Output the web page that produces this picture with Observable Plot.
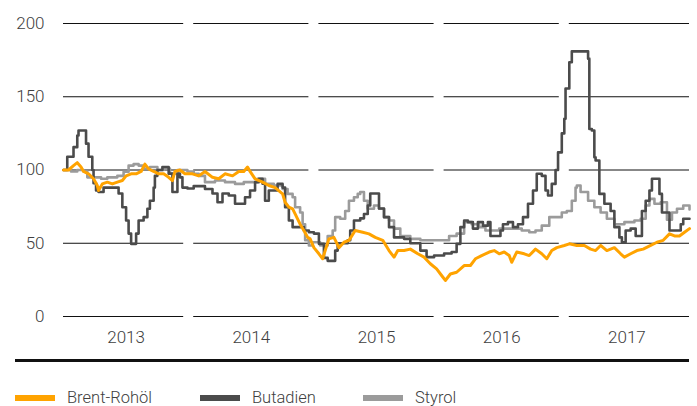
<!DOCTYPE html>
<html>
<head>
<meta charset="utf-8">
<script src="https://cdn.jsdelivr.net/npm/d3@7"></script>
<script src="https://cdn.jsdelivr.net/npm/@observablehq/plot@0.6"></script>
<style>
  html, body { margin: 0; padding: 0; background: #fff; }
  #wrap { position: relative; width: 697px; height: 406px; font-family: Roboto, "Open Sans", sans-serif; font-weight: 300; color: #404040; }
  #rule { position: absolute; left: 15px; top: 359px; width: 674px; height: 3px; background: #111; }
  .item { position: absolute; top: 389px; height: 18px; font-size: 16.5px; line-height: 18px; white-space: nowrap; }
  .sw { position: absolute; left: 0; top: 6px; width: 40px; height: 6px; }
  .lab { position: absolute; left: 52px; top: 0; }
</style>
</head>
<body>
<div id="wrap">
  <div id="chart"></div>
  <div id="rule"></div>
  <div id="legend"></div>
</div>
<script>
// ---- data ----
const years = [2013, 2014, 2015, 2016, 2017];
const yTicks = [0, 50, 100, 150, 200];
const seriesNames = ["Brent-Rohöl", "Butadien", "Styrol"];
const seriesColors = ["#ffa300", "#4b4b4b", "#9b9b9b"];

const brentT = [2013.00,2013.04,2013.08,2013.11,2013.14,2013.16,2013.20,2013.24,2013.27,2013.28,2013.31,2013.35,2013.39,2013.43,2013.47,2013.50,2013.54,2013.58,2013.62,2013.65,2013.68,2013.72,2013.76,2013.80,2013.84,2013.87,2013.89,2013.93,2013.97,2014.03,2014.08,2014.13,2014.19,2014.24,2014.29,2014.35,2014.40,2014.44,2014.47,2014.49,2014.53,2014.59,2014.64,2014.69,2014.75,2014.77,2014.80,2014.83,2014.85,2014.89,2014.92,2014.95,2014.97,2015.00,2015.04,2015.07,2015.09,2015.12,2015.16,2015.20,2015.24,2015.28,2015.33,2015.39,2015.44,2015.49,2015.55,2015.60,2015.64,2015.67,2015.72,2015.77,2015.83,2015.88,2015.93,2015.98,2016.02,2016.05,2016.09,2016.14,2016.20,2016.25,2016.29,2016.34,2016.40,2016.44,2016.48,2016.52,2016.56,2016.58,2016.62,2016.68,2016.72,2016.77,2016.82,2016.86,2016.90,2016.94,2017.00,2017.04,2017.10,2017.16,2017.21,2017.25,2017.29,2017.34,2017.40,2017.45,2017.48,2017.53,2017.58,2017.63,2017.69,2017.74,2017.79,2017.84,2017.88,2017.92,2017.96,2018.00];
const brentV = [100,100,103,105,102,99,97.4,94,89.4,86,90.5,91.7,90.5,91.7,92.8,96,97.4,97.4,99,104,100.8,99,97.4,97.4,95,92.8,99,100,97.4,97.4,96,99,95,94,97.4,96,99,99,102,99,94,91.7,89.4,88,83.7,78,74.6,73.5,70,63,58.7,54,53,47,42.8,39.4,45,53,54,47,50.7,52,58.7,57.5,56.4,54,52,45,40.5,45,45,46,42.8,40.5,36,32.5,28,24.6,29,30.2,34.8,34.8,39.4,41.6,44,45,42.8,44,41.6,37,44,42.8,41.6,46,42.8,39.4,45,47,48.5,49.6,48.5,48.5,46,45,48.5,45,47,42.8,40.5,42.8,45,46,48.5,50.7,52,56.4,55,55,57.5,60];

const butT = [2013.00,2013.03,2013.08,2013.11,2013.12,2013.16,2013.18,2013.20,2013.23,2013.24,2013.26,2013.28,2013.32,2013.40,2013.44,2013.47,2013.50,2013.52,2013.54,2013.56,2013.58,2013.60,2013.64,2013.67,2013.69,2013.72,2013.73,2013.75,2013.79,2013.81,2013.84,2013.87,2013.89,2013.91,2013.93,2013.95,2013.99,2014.04,2014.13,2014.19,2014.23,2014.27,2014.32,2014.37,2014.41,2014.45,2014.49,2014.53,2014.56,2014.59,2014.61,2014.64,2014.68,2014.71,2014.75,2014.77,2014.80,2014.83,2014.88,2014.92,2014.96,2015.00,2015.04,2015.08,2015.11,2015.13,2015.17,2015.19,2015.27,2015.29,2015.32,2015.37,2015.40,2015.43,2015.45,2015.49,2015.52,2015.56,2015.60,2015.64,2015.72,2015.77,2015.85,2015.90,2015.96,2016.04,2016.10,2016.14,2016.17,2016.20,2016.23,2016.27,2016.31,2016.35,2016.39,2016.41,2016.45,2016.49,2016.51,2016.55,2016.59,2016.63,2016.67,2016.71,2016.75,2016.78,2016.82,2016.85,2016.87,2016.90,2016.93,2016.95,2016.98,2017.00,2017.01,2017.04,2017.06,2017.17,2017.19,2017.20,2017.22,2017.24,2017.25,2017.28,2017.32,2017.37,2017.40,2017.44,2017.46,2017.49,2017.53,2017.57,2017.60,2017.62,2017.65,2017.68,2017.70,2017.74,2017.76,2017.78,2017.82,2017.84,2017.89,2017.93,2017.95,2018.00];
const butV = [100,109,115.6,123.5,127,127,118,109,100,91,86,85,88,88,84,74.6,65.5,56.6,49.6,49.6,56.6,65.5,67.8,73.5,79,88,96,100,102,102,97.5,85,85,97.5,95,88,87.4,89,87,84,78,84,82.6,77,77,81.4,86,91.7,94,90.6,79,86,86,90.5,88,74.6,65.5,61,61,58.7,57.5,56.6,49.6,40,38,38,45,50,52,58.7,65.5,67,70,75.8,84,84,73.7,67.8,61,54,53,50,45,40.5,41.6,43,44,49.6,61,65.5,64.4,60,64.4,62,64.4,55,55,58.7,63,64.4,61,63,67.8,77,86,97.4,96,86,82.6,90.5,100,112,125,135,155.6,173.6,181,181,176,128,127,108.7,106.5,83.7,77,72,61,54,50.7,58.7,60,55,55,72,79,86,94,94,83.7,71,71,58.7,58.7,63,66.7,66.7];

const styT = [2013.00,2013.06,2013.11,2013.16,2013.19,2013.24,2013.30,2013.35,2013.43,2013.48,2013.52,2013.56,2013.60,2013.64,2013.69,2013.75,2013.80,2013.85,2013.91,2013.99,2014.04,2014.08,2014.13,2014.21,2014.29,2014.37,2014.44,2014.49,2014.55,2014.61,2014.68,2014.75,2014.79,2014.83,2014.85,2014.89,2014.91,2014.93,2014.96,2014.99,2015.01,2015.05,2015.11,2015.15,2015.17,2015.21,2015.25,2015.28,2015.32,2015.35,2015.37,2015.40,2015.43,2015.48,2015.52,2015.56,2015.60,2015.64,2015.69,2015.77,2015.85,2015.93,2016.01,2016.08,2016.14,2016.20,2016.26,2016.32,2016.37,2016.42,2016.48,2016.61,2016.66,2016.72,2016.77,2016.82,2016.88,2016.93,2016.98,2017.02,2017.06,2017.09,2017.10,2017.13,2017.19,2017.24,2017.29,2017.34,2017.40,2017.48,2017.56,2017.61,2017.65,2017.68,2017.72,2017.77,2017.82,2017.86,2017.90,2017.95,2018.00];
const styV = [100,99,100,99,95,95,94,95,96,98.8,103,104,103,101,102,100,101,97.4,100,99,97.4,96,91.7,92.8,91.7,90.5,91.7,91.7,94,90.5,89.4,87,83.7,81.4,74.6,71,63,52,48.5,50.7,50.7,48.5,55,58.7,67.8,66.7,72,79,81.4,83.7,85,79,73.5,75.8,73.5,67.8,65.5,60,55,53,52,52,52,55,56.6,64.4,63,61,58.7,58.7,60,60,58.7,57.5,58.7,62,67.8,67.8,71,72,79,88,89.4,85,79,74.6,71,66.7,63,64.4,65.5,66.7,75.8,80.3,77,78,66,71,73.5,75.8,73];

// ---- build tables ----
const rows = (t, v, s) => t.map((d, i) => ({t: d, v: v[i], s}));
const brent = rows(brentT, brentV, seriesNames[0]);
const butadien = rows(butT, butV, seriesNames[1]);
const styrol = rows(styT, styV, seriesNames[2]);

const gap = 0.04;
const grid = d3.cross(years, yTicks).map(([yr, y]) => ({
  x1: yr === years[0] ? yr : yr + gap,
  x2: yr === years[years.length - 1] ? yr + 1 : yr + 1 - gap,
  y
}));

const font = {fontFamily: "Roboto", fontWeight: 300, fontSize: 17, fill: "#404040"};

const chart = Plot.plot({
  width: 697,
  height: 372,
  marginLeft: 63,
  marginRight: 8,
  marginTop: 23,
  marginBottom: 56,
  x: {domain: [years[0], years[years.length - 1] + 1], label: null, axis: null},
  y: {domain: [0, 200], label: null, axis: null},
  style: {background: "#fff", color: "#404040", overflow: "visible"},
  marks: [
    Plot.ruleY(grid, {x1: "x1", x2: "x2", y: "y", stroke: "#111", strokeWidth: 1}),
    Plot.axisY(yTicks, {anchor: "left", tickSize: 0, tickPadding: 19, label: null, ...font}),
    Plot.axisX(years.map(y => y + 0.5), {anchor: "bottom", tickSize: 0, tickPadding: 14, label: null, tickFormat: d => String(Math.floor(d)), ...font}),
    Plot.line(styrol, {x: "t", y: "v", curve: "step-after", stroke: seriesColors[2], strokeWidth: 2.6, strokeLinejoin: "round"}),
    Plot.line(butadien, {x: "t", y: "v", curve: "step-after", stroke: seriesColors[1], strokeWidth: 2.6, strokeLinejoin: "round"}),
    Plot.line(brent, {x: "t", y: "v", stroke: seriesColors[0], strokeWidth: 3, strokeLinejoin: "round"})
  ]
});
document.getElementById("chart").appendChild(chart);

// ---- legend ----
const legendLefts = [15, 200, 363];
const legend = document.getElementById("legend");
seriesNames.forEach((name, i) => {
  const item = document.createElement("div");
  item.className = "item";
  item.style.left = legendLefts[i] + "px";
  item.innerHTML = `<span class="sw" style="background:${seriesColors[i]}"></span><span class="lab">${name}</span>`;
  legend.appendChild(item);
});
</script>
</body>
</html>
